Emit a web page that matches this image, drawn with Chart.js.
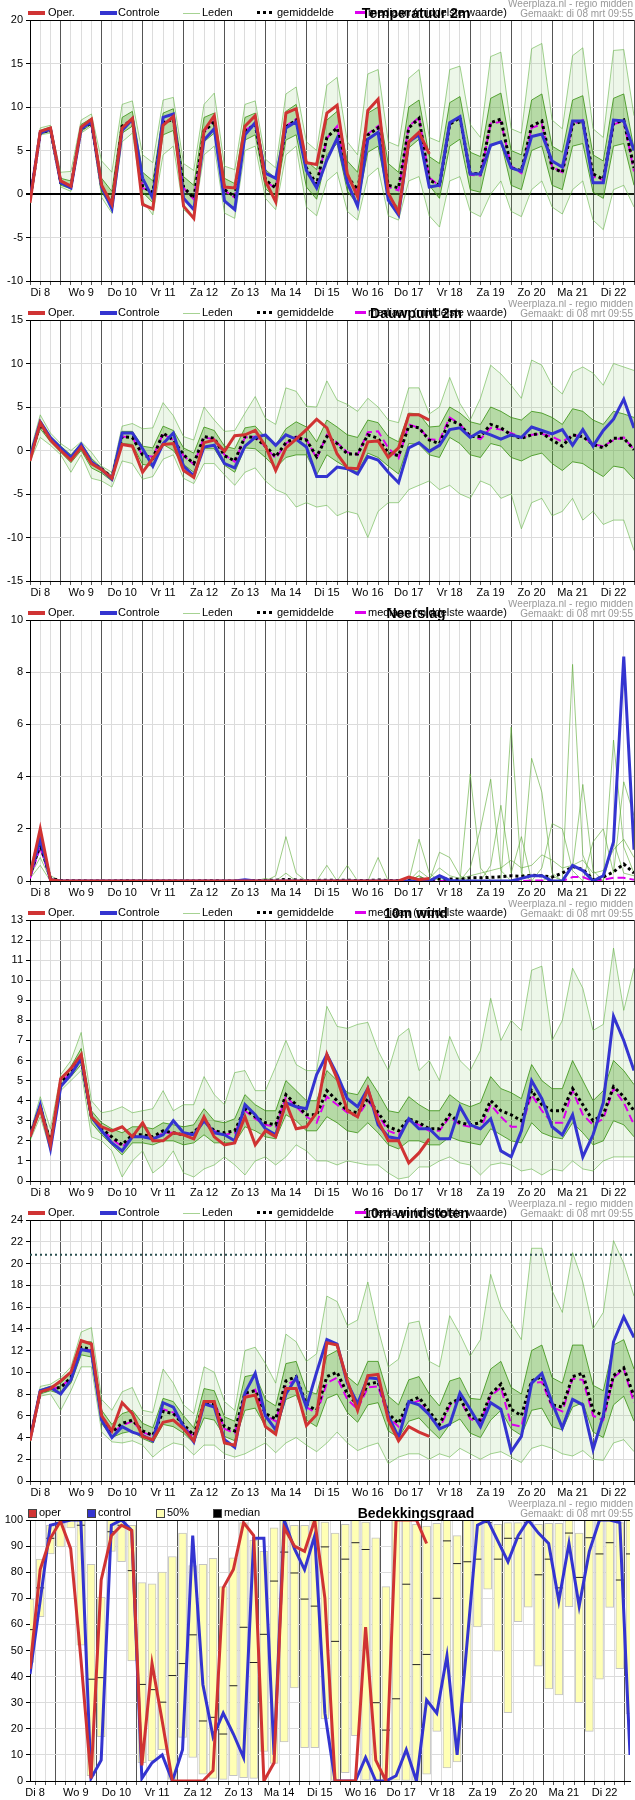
<!DOCTYPE html>
<html>
<head>
<meta charset="utf-8">
<script src="https://cdn.jsdelivr.net/npm/chart.js@4.4.1/dist/chart.umd.min.js"></script>
<style>
body { margin: 0; background: #fff; font-family: "Liberation Sans", Arial, sans-serif; }
.panel { position: relative; width: 635px; height: 300px; overflow: hidden; }
.panel canvas { position: absolute; left: 0; top: 0; }
.lg { position: absolute; top: 6px; font-size: 11px; line-height: 13px; color: #000; white-space: nowrap; }
.sw { position: absolute; }
.sq { position: absolute; top: 9px; width: 7px; height: 7px; border: 1px solid #444; }
.title { position: absolute; top: 5px; left: 316px; width: 200px; text-align: center; font-weight: bold; font-size: 14px; color: #000; }
.credit { position: absolute; right: 2px; top: -1px; font-size: 10px; line-height: 10px; color: #999; text-align: right; white-space: nowrap; }
</style>
</head>
<body>
<div class="panel" id="p1"><canvas id="c1" width="635" height="300"></canvas></div>
<div class="panel" id="p2"><canvas id="c2" width="635" height="300"></canvas></div>
<div class="panel" id="p3"><canvas id="c3" width="635" height="300"></canvas></div>
<div class="panel" id="p4"><canvas id="c4" width="635" height="300"></canvas></div>
<div class="panel" id="p5"><canvas id="c5" width="635" height="300"></canvas></div>
<div class="panel" id="p6"><canvas id="c6" width="635" height="300"></canvas></div>
<script>
// x = 6-hour step index, 0 = Di 8 06:00
const DAYS = ['Di 8', 'Wo 9', 'Do 10', 'Vr 11', 'Za 12', 'Zo 13', 'Ma 14', 'Di 15', 'Wo 16', 'Do 17', 'Vr 18', 'Za 19', 'Zo 20', 'Ma 21', 'Di 22'];

// Temperatuur 2m
const tempOper = [-1.0,7.2,7.6,1.5,0.9,7.7,8.6,1.0,-1.2,7.6, 8.7,-1.2,-1.7,7.9,8.9,-1.4,-2.8,7.3,9.0,0.8, 0.7,7.8,9.0,1.5,-0.9,9.3,9.8,3.6,3.4,9.3, 10.2,2.3,-0.3,9.6,10.9,0.1,-2.1,6.0,7.1,4.6];
const tempControl = [-0.6,7.0,7.5,1.3,0.7,7.5,8.3,0.8,-1.7,7.3, 8.6,1.8,-0.5,8.8,9.2,-0.5,-1.8,6.2,7.5,-0.8, -1.8,6.8,8.2,2.4,1.8,7.6,8.3,2.7,0.7,3.9, 6.4,1.3,-1.4,6.3,7.1,-0.7,-2.4,6.0,6.8,0.8, 1.0,8.2,8.9,2.3,2.3,5.6,6.0,3.0,2.6,6.6, 6.9,3.8,3.1,8.4,8.4,1.3,1.3,8.5,8.4,5.0];
const tempMean = [-0.7,7.0,7.4,1.3,0.8,7.5,8.2,0.8,-1.2,7.8, 8.5,0.8,0.2,8.2,8.6,0.8,-0.5,7.2,8.3,0.5, -0.3,7.2,8.0,1.6,0.7,7.7,8.5,3.0,1.1,6.5, 7.6,2.0,0.5,6.8,7.6,1.0,0.7,7.6,8.7,1.6, 1.0,8.0,8.8,2.4,2.3,8.2,8.6,3.0,2.7,7.8, 8.4,3.0,2.5,8.0,8.4,2.3,1.7,8.1,8.5,3.0];
const tempMedian = [-0.7,7.0,7.4,1.3,0.8,7.6,8.2,0.8,-1.2,7.8, 8.6,0.7,0.1,8.2,8.7,0.7,-0.6,7.2,8.4,0.4, -0.4,7.3,8.1,1.5,0.6,7.8,8.6,2.8,0.9,6.4, 7.8,1.8,0.3,6.9,7.8,0.8,0.4,7.8,8.8,1.9, 0.9,8.1,8.9,2.2,2.1,8.1,8.3,3.2,2.4,7.6, 8.0,3.1,2.5,8.0,8.5,2.0,1.6,8.0,8.4,2.6];
const tempHi = [-0.3,7.6,7.9,2.5,2.6,8.5,9.2,3.8,2.5,10.3, 10.7,4.5,3.6,10.8,11.1,3.5,2.7,10.3,11.6,3.2, 2.8,10.3,10.7,4.0,3.0,11.5,12.3,6.0,5.0,12.5, 13.4,6.0,4.5,13.8,14.3,6.0,5.5,13.3,14.3,6.5, 6.0,14.3,14.7,8.0,6.5,15.8,16.3,7.5,7.0,16.7, 17.3,8.5,7.5,15.9,16.8,7.5,6.5,16.5,16.6,9.0];
const tempLo = [-1.1,6.8,7.0,0.8,0.3,7.0,7.8,-0.4,-2.2,6.0, 7.0,-0.8,-2.4,4.5,5.5,-1.8,-2.8,4.5,5.5,-2.2, -2.8,5.0,5.5,-0.5,-1.8,4.5,5.5,-1.5,-2.5,1.5, 2.5,-2.0,-3.0,2.0,3.0,-2.5,-3.0,1.5,2.0,-2.5, -3.8,1.5,2.0,-2.0,-2.6,0.0,1.5,-2.0,-2.6,0.5, 1.5,-1.5,-2.3,0.5,1.5,-3.0,-4.1,0.5,1.0,-1.5];
const tempUpper = [-0.5,7.3,7.7,1.8,1.5,8.0,8.7,1.8,0.3,8.8, 9.5,2.5,1.5,9.3,9.8,2.0,1.0,8.8,9.3,1.8, 1.2,8.8,9.3,2.8,1.8,9.5,10.3,3.8,2.8,8.5, 9.5,3.8,2.5,9.3,10.0,3.5,2.5,10.0,10.8,4.3, 3.5,10.5,11.2,4.8,4.3,11.0,11.6,5.0,4.5,10.8, 11.5,5.5,4.8,10.8,11.3,4.5,3.8,11.0,11.5,5.2];
const tempLower = [-0.9,6.9,7.2,1.0,0.6,7.2,8.0,0.2,-1.6,7.0, 7.8,0.2,-1.0,6.8,7.3,-0.5,-1.7,6.0,7.0,-0.8, -1.6,6.2,6.8,0.6,-0.4,6.2,6.8,0.8,-0.6,4.5, 5.8,0.3,-1.2,4.8,5.5,-0.5,-1.5,5.3,6.3,1.0, -0.5,5.5,6.3,0.5,0.2,5.5,6.0,1.0,0.5,5.0, 5.5,1.0,0.5,5.5,5.8,0.2,-0.5,5.5,5.8,1.0];

// Dauwpunt 2m
const dewOper = [-1.2,3.2,1.2,0.0,-1.1,0.4,-1.5,-2.2,-3.2,0.7, 0.5,-2.5,-0.9,0.7,0.8,-2.3,-3.1,0.9,1.2,-0.1, 1.7,1.8,2.3,0.5,-2.3,0.3,1.3,2.4,3.6,2.6, -0.4,-2.0,-2.1,1.0,1.1,-0.8,0.3,4.1,4.1,3.5];
const dewControl = [-0.8,3.3,1.5,0.3,-0.8,0.7,-1.3,-2.2,-3.3,2.0, 2.0,0.2,-1.8,0.8,2.0,-1.8,-2.9,0.4,0.6,-1.5, -2.0,0.5,1.5,1.8,0.6,1.8,1.3,0.4,-3.0,-3.0, -1.9,-2.1,-2.7,-0.7,-1.1,-2.5,-3.7,0.3,0.9,-0.1, 0.6,2.4,2.6,1.5,2.2,1.8,1.3,1.8,1.5,2.7, 2.3,1.9,2.4,0.6,2.4,0.5,2.3,3.6,5.9,2.6];
const dewMean = [-0.8,3.0,1.3,0.2,-0.9,0.4,-1.4,-2.1,-3.1,1.6, 1.5,-0.5,-0.9,2.0,1.2,-0.5,-1.5,1.6,1.4,-0.6, -1.2,1.6,1.5,0.5,-0.7,0.9,1.5,1.2,-0.7,1.6, 0.8,-0.4,-0.4,1.8,1.4,-0.3,-0.6,2.8,2.6,1.2, 0.8,3.5,3.0,1.6,1.6,3.0,2.6,1.8,1.4,1.8, 2.0,1.2,0.5,1.8,1.6,0.7,0.3,1.4,1.4,0.1];
const dewMedian = [-0.8,3.0,1.3,0.2,-0.9,0.4,-1.4,-2.1,-3.1,1.6, 1.5,-0.6,-0.7,1.9,1.2,-0.6,-1.6,1.5,1.3,-0.5, -1.3,1.5,1.6,0.4,-0.9,0.8,1.6,1.3,-0.9,1.8, 0.9,-0.2,-0.5,2.1,2.2,0.3,-0.9,3.0,2.6,1.3, 1.2,3.8,3.0,1.7,1.3,2.6,2.4,2.0,1.5,1.8, 1.9,1.6,1.0,1.8,1.6,0.7,0.5,1.2,1.5,0.1];
const dewHi = [-0.2,4.1,2.0,0.8,0.0,1.0,-0.2,-1.8,-2.5,2.8, 3.1,2.5,2.6,5.5,4.0,1.6,1.2,5.0,3.5,2.2, 2.3,4.3,6.2,3.7,3.0,7.2,6.8,5.1,5.0,8.0, 5.8,5.3,4.5,6.0,5.0,3.5,3.2,7.2,7.2,4.2, 5.0,8.4,5.4,3.5,6.0,9.8,8.8,7.5,6.0,10.4, 9.8,7.5,6.5,9.0,9.6,8.9,7.5,10.0,9.6,9.2];
const dewLo = [-1.3,1.5,0.6,-0.5,-2.5,-0.5,-3.2,-3.5,-4.2,-1.2, -1.5,-3.3,-3.0,-1.0,-0.5,-3.2,-3.8,-1.5,-1.5,-2.8, -4.0,-2.5,-2.0,-3.5,-4.5,-5.0,-6.5,-6.0,-6.5,-6.3, -7.5,-7.0,-7.3,-10.0,-7.0,-6.0,-6.0,-4.5,-4.0,-3.5, -4.5,-4.0,-5.0,-5.5,-3.5,-4.0,-5.5,-5.0,-9.0,-6.0, -5.5,-7.5,-7.0,-5.5,-8.0,-7.0,-8.5,-8.0,-8.0,-11.5];
const dewUpper = [-0.6,3.5,1.6,0.5,-0.5,0.8,-0.9,-2.0,-2.9,2.2, 2.2,0.5,0.3,2.8,2.3,0.3,-0.3,2.7,2.3,0.5, 0.2,2.6,2.8,1.5,0.6,2.5,3.3,2.7,1.0,3.5, 2.7,1.8,1.5,3.5,3.2,1.6,1.0,4.3,4.2,2.7, 2.8,5.0,4.3,3.3,3.0,5.0,4.5,3.8,3.5,4.5, 4.3,3.8,3.0,4.8,4.5,3.5,3.0,4.5,4.2,3.8];
const dewLower = [-1.0,2.5,1.0,-0.2,-1.4,0.0,-2.0,-2.6,-3.5,0.8, 0.7,-1.6,-1.8,0.7,0.0,-1.6,-2.5,0.2,0.2,-1.7, -2.5,0.3,0.2,-0.8,-2.0,-0.8,-0.5,-0.5,-2.8,-0.5, -1.3,-2.0,-2.5,-0.3,-0.8,-1.8,-2.7,0.8,0.7,-0.5, -0.8,1.5,0.8,-0.5,-0.8,0.8,0.5,-0.8,-1.2,-0.6, -0.3,-1.5,-2.3,-1.3,-1.5,-2.3,-3.0,-1.8,-2.0,-3.3];

// Neerslag
const rainOper = [0.2,2.0,0.05,0,0,0,0,0,0,0, 0,0,0,0,0,0,0,0,0,0, 0,0,0,0,0,0,0,0,0,0, 0,0,0,0,0,0,0,0.15,0.05,0.1];
const rainControl = [0.2,1.6,0.05,0,0,0,0,0,0,0, 0,0,0,0,0,0,0,0,0,0, 0,0.05,0,0,0,0,0,0,0,0, 0,0,0,0,0,0,0,0,0,0, 0.2,0.02,0,0,0,0,0,0,0.1,0.2, 0.2,0,0,0.6,0.4,0,0.2,1.5,8.6,1.2];
const rainMean = [0.2,1.4,0.1,0.02,0.01,0.01,0,0,0,0.01, 0.01,0,0,0,0,0,0,0.01,0.01,0, 0,0.01,0.02,0.02,0.03,0.06,0.04,0.02,0.02,0.03, 0.02,0.03,0.02,0.02,0.04,0.02,0.02,0.03,0.08,0.05, 0.08,0.08,0.06,0.12,0.12,0.14,0.16,0.2,0.18,0.22, 0.2,0.15,0.3,0.55,0.45,0.05,0.15,0.35,0.65,0.3];
const rainMedian = [0.1,1.3,0.05,0,0,0,0,0,0,0, 0,0,0,0,0,0,0,0,0,0, 0,0,0,0,0,0,0,0,0,0, 0,0,0,0,0,0,0,0,0,0, 0,0,0,0,0,0,0,0,0,0.02, 0.02,0,0,0.15,0.15,0,0.05,0.12,0.12,0.05];
const rainMemberA = [0.5,1.9,0.2,0,0,0,0,0,0,0, 0,0,0,0,0,0,0,0,0,0, 0,0,0,0,0.2,1.7,0.3,0,0,0, 0,0,0,0,0,0,0,0,0.2,0, 0.1,0,0,4.1,0.5,0,0,5.9,0.3,0, 0,0.2,0,8.3,1.0,0,0,1.5,0.3,0.2];
const rainMemberB = [0.3,1.2,0.1,0,0,0,0,0,0,0, 0,0,0,0,0,0,0,0,0,0, 0,0,0,0.1,0,0,0,0,0,0.6, 0,0,0,0,0.9,0,0,0,1.6,0.3, 0,0,0,0.5,2.0,3.9,0.4,0,0,4.7, 3.4,0.3,0,0.5,3.7,0.4,0,5.4,1.3,0.3];
const rainMemberC = [0.2,0.9,0.05,0,0,0,0,0,0,0, 0,0,0,0,0,0,0,0,0,0, 0,0,0,0,0,0.3,0,0,0,0, 0,0.6,0,0,0,0,0,0,0.2,0, 1.1,0.9,0.2,0,0,0.6,2.9,0.3,1.7,0, 0.5,2.2,2.0,0.4,0,1.5,2.0,0.3,3.8,2.5];
const rainMemberD = [0.1,0.6,0,0,0,0,0,0,0,0, 0,0,0,0,0,0,0,0,0,0, 0,0,0,0,0,0,0,0,0,0, 0,0,0,0,0,0,0,0,0.4,0.1, 0.5,0.2,0.1,0.2,0.3,0.4,0.5,0.8,0.5,0.6, 1.0,0.8,0.5,0.6,0.8,0.3,0.4,1.2,1.6,0.9];

// 10m wind
const windOper = [2.2,3.6,1.8,5.1,5.6,6.3,3.2,2.7,2.5,2.7, 2.2,2.9,2.0,2.0,2.4,2.3,2.1,3.2,2.2,1.8, 1.9,3.2,1.8,2.5,2.2,3.9,2.6,2.7,3.4,6.3, 5.1,3.5,3.2,4.6,3.0,2.0,2.0,0.9,1.4,2.1];
const windControl = [2.2,3.8,1.6,4.7,5.3,6.1,3.2,2.5,1.9,1.5, 2.2,2.2,2.1,2.3,3.0,2.4,2.3,3.0,2.4,2.3, 2.0,3.8,3.3,2.6,2.3,3.9,3.7,3.6,5.3,6.3, 5.3,4.1,3.7,4.6,2.8,2.2,2.1,3.1,2.6,2.6, 2.1,2.1,3.7,2.8,2.6,3.1,1.5,1.2,2.5,5.0, 4.1,2.7,2.3,3.3,1.2,2.3,3.9,8.2,7.0,5.5];
const windMean = [2.3,3.7,1.9,4.9,5.4,6.1,3.2,2.6,2.2,1.8, 2.3,2.3,2.2,2.5,2.4,2.3,2.4,3.0,2.5,2.4, 2.5,3.6,3.2,2.9,2.8,4.3,3.8,3.3,3.3,4.5, 4.0,3.5,3.4,4.1,3.4,2.7,2.5,3.1,2.9,2.6, 2.6,3.3,2.9,2.8,2.9,4.0,3.5,3.3,3.0,4.5, 3.8,3.5,3.5,4.6,3.8,3.0,3.3,4.7,4.2,3.5];
const windMedian = [2.3,3.7,1.9,4.9,5.4,6.1,3.2,2.6,2.1,1.7, 2.2,2.2,2.1,2.4,2.4,2.3,2.3,3.1,2.5,2.3, 2.4,3.5,3.1,2.8,2.7,4.2,3.7,3.2,2.9,4.2, 3.8,3.4,3.2,4.0,3.3,2.5,2.3,3.0,2.8,2.5, 2.5,3.2,2.8,2.7,2.6,3.8,3.2,2.7,2.7,4.3, 3.5,2.9,2.9,4.5,3.3,2.8,3.1,4.6,3.9,2.8];
const windHi = [2.4,4.2,2.6,5.3,6.0,7.4,4.0,3.4,3.5,3.7, 3.4,3.5,3.6,4.5,3.5,3.8,3.8,5.2,4.3,3.8, 5.4,5.5,4.5,4.5,5.7,7.0,5.8,5.5,5.5,8.7, 7.7,7.6,7.8,7.9,6.5,5.5,7.2,7.6,5.5,6.0, 5.0,7.2,6.0,5.5,6.5,9.1,7.0,8.0,7.5,10.5, 10.7,7.0,8.0,10.6,9.6,7.5,7.8,11.6,8.5,10.6];
const windLo = [2.0,3.2,1.5,4.5,5.0,5.5,2.2,2.0,1.5,0.2, 1.0,1.5,0.4,0.8,1.5,0.4,0.2,0.6,0.8,1.2, 0.8,0.3,1.0,1.2,0.8,1.2,1.8,1.5,1.0,1.0, 0.8,1.0,0.9,0.8,0.8,0.4,0.1,0.2,0.7,0.7, 1.0,1.2,0.9,0.8,0.3,0.8,0.9,0.8,0.5,0.6, 0.3,0.6,0.5,1.0,0.6,0.5,1.0,1.2,1.2,1.2];
const windUpper = [2.3,3.9,2.1,5.1,5.7,6.6,3.5,2.9,2.6,2.4, 2.7,2.7,2.6,2.9,2.8,2.7,2.8,3.6,3.0,2.9, 3.1,4.3,3.8,3.5,3.5,5.0,4.5,4.0,4.0,5.5, 5.0,4.4,4.3,5.2,4.4,3.5,3.4,4.2,3.8,3.5, 3.5,4.3,3.9,3.7,3.9,5.2,4.6,4.4,4.1,5.8, 5.0,4.6,4.6,6.0,5.0,4.0,4.5,6.0,5.5,4.8];
const windLower = [2.1,3.5,1.7,4.7,5.2,5.8,2.9,2.3,1.8,1.3, 1.9,1.9,1.8,2.0,2.0,1.8,1.9,2.3,1.9,1.9, 1.9,2.7,2.5,2.2,2.1,3.3,3.0,2.5,2.5,3.2, 2.9,2.5,2.4,2.9,2.4,1.8,1.6,2.0,2.0,1.8, 1.8,2.2,2.0,1.9,1.8,2.6,2.3,2.0,1.9,2.9, 2.4,2.2,2.1,2.9,2.4,1.8,2.0,3.0,2.8,2.2];

// 10m windstoten
const gustOper = [3.7,8.2,8.5,9.2,10.0,12.9,12.6,6.0,4.6,7.2, 6.2,4.1,3.8,5.4,5.6,4.8,3.7,7.3,7.3,3.5, 3.3,7.7,7.9,5.0,4.3,8.5,8.5,5.1,6.1,12.7, 12.5,9.2,6.5,9.7,9.8,5.6,3.7,5.0,4.5,4.1];
const gustControl = [3.8,8.3,8.6,8.0,9.3,12.1,11.9,5.6,4.0,5.0, 4.5,4.2,3.7,7.2,6.8,5.0,3.6,7.1,6.8,3.8, 3.1,8.1,9.9,6.0,4.7,8.0,9.5,6.8,10.0,13.0, 12.6,9.0,7.1,9.5,9.4,6.0,4.0,7.3,7.0,6.1, 4.8,5.2,8.1,6.6,5.0,7.2,6.6,2.7,4.1,9.0, 9.9,7.2,4.9,7.5,7.0,2.9,6.0,12.8,15.1,13.2];
const gustMean = [3.8,8.2,8.5,8.6,9.5,12.3,12.1,5.9,4.5,5.3, 5.6,4.6,4.2,6.4,6.2,5.2,4.2,7.2,7.0,5.0, 4.6,8.1,8.3,6.2,5.7,9.2,9.6,7.0,6.5,9.6, 10.0,8.0,7.0,8.9,9.1,6.2,5.3,7.3,7.7,6.4, 5.2,7.1,7.6,5.9,5.6,8.0,8.9,6.6,6.0,9.2, 9.6,7.0,6.8,9.6,9.9,6.5,6.0,9.7,10.4,7.8];
const gustMedian = [3.8,8.2,8.5,8.6,9.5,12.2,12.0,5.8,4.4,5.1, 5.5,4.5,4.1,6.6,6.3,5.1,4.0,7.1,7.3,4.8, 4.4,7.9,8.4,6.0,5.5,8.8,9.3,6.8,6.2,9.0, 9.5,7.5,6.6,8.6,8.7,5.9,5.0,7.0,7.4,6.0, 4.8,6.9,7.5,5.7,5.4,7.8,8.6,5.2,5.0,9.0, 9.1,6.8,6.4,9.4,9.3,6.0,5.6,9.5,10.3,7.2];
const gustHi = [4.0,8.7,8.9,9.5,10.5,13.7,14.1,7.5,6.5,8.2, 8.6,6.5,6.3,10.3,9.0,7.0,6.2,10.5,10.0,7.3, 6.5,12.0,12.3,10.8,9.0,13.5,12.8,11.0,11.7,17.0, 16.5,14.3,14.8,18.3,14.0,10.5,11.2,14.5,14.7,11.0, 10.5,15.2,13.5,11.5,13.0,19.0,16.0,14.5,13.0,21.4, 21.4,17.5,15.5,21.0,18.3,14.0,15.5,22.1,20.0,17.0];
const gustLo = [3.6,7.8,8.0,6.5,8.3,10.5,10.5,4.5,3.6,3.5, 3.7,3.3,2.2,3.0,3.5,3.3,2.4,3.3,3.3,2.5, 2.2,2.5,3.0,3.5,2.6,3.5,4.0,3.3,2.7,3.5, 4.5,3.5,2.8,3.2,3.5,1.6,2.2,2.5,2.5,2.0, 2.5,2.2,3.0,2.5,2.0,2.5,2.7,2.2,1.7,3.0, 3.3,3.0,2.5,2.3,2.8,2.0,1.9,3.5,3.8,2.7];
const gustUpper = [3.9,8.4,8.7,9.0,9.9,12.8,12.8,6.5,5.2,6.2, 6.5,5.3,4.9,7.6,7.3,6.0,4.9,8.5,8.3,5.9, 5.5,9.6,9.8,7.5,6.9,10.8,11.0,8.3,8.0,11.5, 12.0,9.6,8.8,11.0,11.0,7.8,7.0,9.3,9.6,8.0, 6.9,9.2,9.5,7.6,7.5,10.3,11.0,8.6,8.0,12.0, 12.5,9.5,9.0,12.5,12.5,8.8,8.3,12.5,13.0,10.3];
const gustLower = [3.7,8.0,8.3,8.0,9.0,11.6,11.4,5.3,4.0,4.4, 4.6,3.9,3.5,5.2,5.0,4.4,3.5,5.8,5.6,4.1, 3.7,6.5,6.7,5.0,4.5,7.5,7.9,5.6,5.0,7.6, 8.0,6.3,5.4,7.0,7.2,4.6,4.0,5.5,5.8,4.8, 3.9,5.2,5.7,4.4,4.0,5.6,6.5,4.8,4.2,6.5, 6.7,5.0,4.7,6.8,7.2,4.5,4.0,7.0,7.8,5.5];
const gustLimit = 20.8;

// Bedekkingsgraad (%)
const cloudOper = [43,81,93,99.5,89,47,1,77,94,98, 96,6,45,23,0,0,0,0,4,74, 81,99,94,0,7,97,90,88,100,70, 0,0,0,59,8,0,100,100,100,91];
const cloudControl = [41,69,98,99,100,100,1,8,98,100, 96,1,7,10,0,12,94,37,17,26, 18,9,93,93,10,100,89,81,94,26, 0,0,0,9,0,0,2,12,0,31, 26,48,10,54,98,100,92,84,94,100, 95,91,69,91,67,88,100,100,99,10];
const cloudP25 = [45.4,63,87,89.7,97,52,2,17,88,84, 46,7,7.7,12,0.6,16.7,9,2.6,1,0.6, 2,1.3,1,11.3,6.7,15,35.7,12.8,12.8,23.8, 0,3.2,17.4,0.3,0.3,0.3,0.3,0,0,2.6, 19,5,7.3,30,59,73.5,49.7,26.2,61,66.6, 44,35.3,33,66.8,30,19,39,66.5,43,25.7];
const cloudP75 = [69.7,85,98,100,100,100,83,70.5,100,100, 98,76,75.5,80,86,95,82.5,83,85.3,74.5, 85.5,99,92.3,88,97,100,98,98,100,99.2, 95,98.3,100,99.2,93.2,74.5,100,100,98.3,97.7, 98.7,100,94,100,100,99.2,98.3,99,99,100, 98.3,98.7,98.7,100,95,100,100,100,99,100];
const cloudMedian = [58,74,93,99,100,98,39,39.6,95.5,98, 80.6,37,35,30.2,40.4,45,56,23,24.4,18, 36.5,58.9,45.4,56.2,76.6,87.7,79.7,69.7,67,89.7, 53.5,85,91.3,88.7,30,19.5,31.5,75.4,44.6,48.5, 70,92,83.3,84,85,99,85,93,93,99, 79,85,74,95,78,93.2,87,91.3,77,87];

const RED = '#d03333';
const BLUE = '#3434d0';
const OUTER = 'rgba(100,180,70,0.6)';
const OUTER_FILL = 'rgba(130,200,100,0.14)';
const INNER = 'rgba(55,145,15,0.8)';
const INNER_FILL = 'rgba(70,160,30,0.33)';
const CREDIT = '<div class="credit">Weerplaza.nl - regio midden<br>Gemaakt: di 08 mrt 09:55</div>';

Chart.defaults.font.family = '"Liberation Sans", Arial, sans-serif';
Chart.defaults.font.size = 11;
Chart.defaults.color = '#000';
Chart.defaults.elements.point.radius = 0;
Chart.defaults.elements.line.borderCapStyle = 'butt';

const pts = arr => arr.map((y, x) => ({ x, y }));

// top line of the plot frame
const topFrame = {
  id: 'topFrame',
  afterDraw(chart) {
    const { ctx, chartArea: a } = chart;
    ctx.save();
    ctx.strokeStyle = '#000';
    ctx.lineWidth = 1;
    ctx.beginPath();
    ctx.moveTo(a.left, Math.round(a.top) + 0.5);
    ctx.lineTo(a.right, Math.round(a.top) + 0.5);
    ctx.stroke();
    ctx.restore();
  }
};

function ensembleLegend(panelId, title) {
  document.getElementById(panelId).insertAdjacentHTML('beforeend', `
    <div class="sw" style="left:28px;top:11px;width:17px;height:4px;background:${RED}"></div><div class="lg" style="left:48px">Oper.</div>
    <div class="sw" style="left:100px;top:11px;width:17px;height:4px;background:${BLUE}"></div><div class="lg" style="left:118px">Controle</div>
    <div class="sw" style="left:183px;top:13px;width:17px;height:1px;background:#a6d392"></div><div class="lg" style="left:202px">Leden</div>
    <div class="sw" style="left:257px;top:11px;width:15px;height:0;border-top:3px dotted #000"></div><div class="lg" style="left:277px">gemiddelde</div>
    <div class="sw" style="left:355px;top:11px;width:11px;height:0;border-top:3px dashed #dd00ee"></div><div class="lg" style="left:368px">mediaan (middelste waarde)</div>
    <div class="title">${title}</div>` + CREDIT);
}

function xScale(labelAt, isDayLine) {
  return {
    type: 'linear', min: 0, max: 59, offset: false,
    afterFit: s => { s.height = 19; },
    ticks: {
      stepSize: 1, autoSkip: false, maxRotation: 0, minRotation: 0, padding: 1,
      callback: v => { const k = (v - labelAt) / 4; return Number.isInteger(k) ? DAYS[k] : ''; }
    },
    grid: {
      offset: false, tickLength: 4, tickColor: '#555',
      color: c => isDayLine(c.tick.value) ? '#555' : '#dcdcdc'
    },
    border: { color: '#000' }
  };
}

function yScale(min, max, step, zeroLine) {
  return {
    min, max,
    afterFit: s => { s.width = 30; },
    ticks: { stepSize: step, padding: 3 },
    grid: {
      tickLength: 4, tickColor: '#000',
      color: c => (zeroLine && c.tick.value === 0) ? '#000' : '#dcdcdc',
      lineWidth: c => (zeroLine && c.tick.value === 0) ? 2 : 1
    },
    border: { color: '#000' }
  };
}

function ensemblePanel(canvasId, d) {
  const sets = [
    { data: pts(d.oper), borderColor: RED, borderWidth: 3, order: 0 },
    { data: pts(d.control), borderColor: BLUE, borderWidth: 3, order: 1 },
    { data: pts(d.mean), borderColor: '#000', borderWidth: 3, borderDash: [3, 3], order: 2 },
    { data: pts(d.median), borderColor: '#dd00ee', borderWidth: 2, borderDash: [8, 4], order: 3 }
  ];
  const [a, b, c, e] = d.members;
  if (d.band) {
    sets.push({ data: pts(a), borderColor: OUTER, borderWidth: 1, order: 5 });
    sets.push({ data: pts(b), borderColor: OUTER, borderWidth: 1, order: 5, fill: '-1', backgroundColor: OUTER_FILL });
    sets.push({ data: pts(c), borderColor: INNER, borderWidth: 1, order: 4 });
    sets.push({ data: pts(e), borderColor: INNER, borderWidth: 1, order: 4, fill: '-1', backgroundColor: INNER_FILL });
  } else {
    [a, b, c, e].forEach(m => sets.push({ data: pts(m), borderColor: 'rgba(90,170,50,0.6)', borderWidth: 1, order: 4 }));
  }
  if (d.limit !== undefined) {
    sets.push({ data: [{ x: 0, y: d.limit }, { x: 59, y: d.limit }], borderColor: '#2a4f4f', borderWidth: 2, borderDash: [2, 3], order: 0 });
  }
  return new Chart(document.getElementById(canvasId), {
    type: 'line',
    data: { datasets: sets },
    options: {
      responsive: false, animation: false,
      layout: { padding: { top: 20, left: 0, right: 0, bottom: 0 } },
      plugins: { legend: { display: false }, tooltip: { enabled: false } },
      scales: {
        x: xScale(1, v => v % 4 === 3),
        y: yScale(d.yMin, d.yMax, d.yStep, d.zeroLine)
      }
    },
    plugins: [topFrame]
  });
}

ensemblePanel('c1', { oper: tempOper, control: tempControl, mean: tempMean, median: tempMedian,
  members: [tempHi, tempLo, tempUpper, tempLower], band: true, yMin: -10, yMax: 20, yStep: 5, zeroLine: true });
ensembleLegend('p1', 'Temperatuur 2m');

ensemblePanel('c2', { oper: dewOper, control: dewControl, mean: dewMean, median: dewMedian,
  members: [dewHi, dewLo, dewUpper, dewLower], band: true, yMin: -15, yMax: 15, yStep: 5 });
ensembleLegend('p2', 'Dauwpunt 2m');

ensemblePanel('c3', { oper: rainOper, control: rainControl, mean: rainMean, median: rainMedian,
  members: [rainMemberA, rainMemberB, rainMemberC, rainMemberD], band: false, yMin: 0, yMax: 10, yStep: 2 });
ensembleLegend('p3', 'Neerslag');

ensemblePanel('c4', { oper: windOper, control: windControl, mean: windMean, median: windMedian,
  members: [windHi, windLo, windUpper, windLower], band: true, yMin: 0, yMax: 13, yStep: 1 });
ensembleLegend('p4', '10m wind');

ensemblePanel('c5', { oper: gustOper, control: gustControl, mean: gustMean, median: gustMedian,
  members: [gustHi, gustLo, gustUpper, gustLower], band: true, yMin: 0, yMax: 24, yStep: 2, limit: gustLimit });
ensembleLegend('p5', '10m windstoten');

// cloud cover: 50% range bars with median marks
const cloudX = xScale(0.5, v => (v - 2.5) % 4 === 0);
cloudX.afterBuildTicks = s => { s.ticks = Array.from({ length: 59 }, (_, k) => ({ value: k + 0.5 })); };
new Chart(document.getElementById('c6'), {
  type: 'bar',
  data: {
    datasets: [
      { type: 'line', data: pts(cloudOper), borderColor: RED, borderWidth: 3, order: 0 },
      { type: 'line', data: pts(cloudControl), borderColor: BLUE, borderWidth: 3, order: 1 },
      { type: 'line', data: pts(cloudMedian), showLine: false, pointStyle: 'line', pointRadius: 4,
        pointBorderColor: '#222', pointBorderWidth: 1, order: 2 },
      { type: 'bar', data: cloudP25.map((lo, i) => ({ x: i, y: [lo, cloudP75[i]] })),
        backgroundColor: '#ffffb4', borderColor: '#c4c4c4', borderWidth: 1, borderSkipped: false,
        barThickness: 8, order: 3 }
    ]
  },
  options: {
    responsive: false, animation: false,
    layout: { padding: { top: 20, left: 0, right: 0, bottom: 0 } },
    plugins: { legend: { display: false }, tooltip: { enabled: false } },
    scales: { x: cloudX, y: yScale(0, 100, 10, false) }
  },
  plugins: [topFrame]
});
document.getElementById('p6').insertAdjacentHTML('beforeend', `
  <div class="sq" style="left:28px;background:${RED}"></div><div class="lg" style="left:39px">oper</div>
  <div class="sq" style="left:87px;background:${BLUE}"></div><div class="lg" style="left:98px">control</div>
  <div class="sq" style="left:156px;background:#ffffb4"></div><div class="lg" style="left:167px">50%</div>
  <div class="sq" style="left:213px;background:#000"></div><div class="lg" style="left:224px">median</div>
  <div class="title">Bedekkingsgraad</div>` + CREDIT);
</script>
</body>
</html>
